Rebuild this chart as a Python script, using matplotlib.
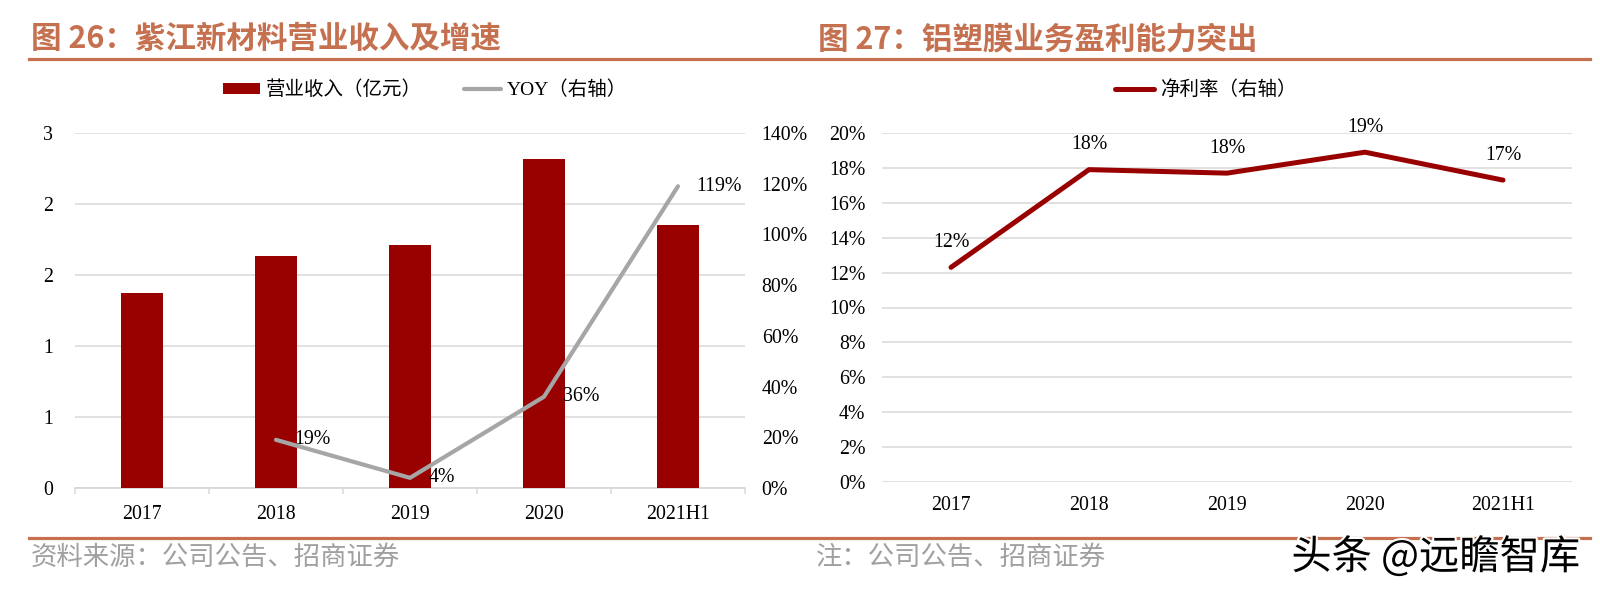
import numpy as np
import matplotlib
matplotlib.use('agg')
import matplotlib.pyplot as plt
import matplotlib.patheffects as pe
from matplotlib.lines import Line2D
from matplotlib.patches import Patch
from matplotlib.ticker import FuncFormatter, FixedLocator

plt.rcParams['font.family'] = ['Liberation Serif', 'Noto Sans CJK SC']

# data
cats = ['2017', '2018', '2019', '2020', '2021H1']
revenue = [1.65, 1.96, 2.05, 2.78, 2.22]          # 营业收入（亿元）
yoy = [np.nan, 0.19, 0.04, 0.36, 1.19]             # YOY（右轴）
margin = [0.123, 0.179, 0.177, 0.189, 0.173]       # 净利率（右轴）

title1 = '图 26：紫江新材料营业收入及增速'
title2 = '图 27：铝塑膜业务盈利能力突出'
src1 = '资料来源：公司公告、招商证券'
src2 = '注：公司公告、招商证券'
wmark = '头条 @远瞻智库'

W, H = 1600, 596
accent = '#C5704F'
red = '#990000'
grey = '#A6A6A6'
gridc = '#D9D9D9'
cjk = ['Noto Sans CJK SC', 'DejaVu Sans']
fs = 14.3

def fx(px):
    return px / W

def fy(py):
    return 1 - py / H

fig = plt.figure(figsize=(W / 100, H / 100), dpi=100)

# titles, rules, footers
fig.text(fx(31), fy(39), title1, color=accent, fontsize=22, fontweight='bold',
         family=cjk, va='center', ha='left')
fig.text(fx(818), fy(39), title2, color=accent, fontsize=22, fontweight='bold',
         family=cjk, va='center', ha='left')
fig.add_artist(Line2D([fx(29), fx(1590)], [fy(59), fy(59)], color=accent, lw=2.3))
fig.add_artist(Line2D([fx(29), fx(1590)], [fy(538), fy(538)], color=accent, lw=2.3))
fig.text(fx(31), fy(557), src1, color='#A0A0A0', fontsize=19, family=cjk, va='center')
fig.text(fx(816), fy(557), src2, color='#A0A0A0', fontsize=19, family=cjk, va='center')
fig.text(fx(1580), fy(557), wmark, color='black', fontsize=29, family=cjk, va='center',
         ha='right', path_effects=[pe.withStroke(linewidth=3, foreground='white')])

x = np.arange(len(cats))

# ---------- left chart ----------
ax = fig.add_axes([fx(75), fy(488), fx(745 - 75), (488 - 133) / H])
ax.bar(x, revenue, width=0.31, color=red, zorder=3)
ax.set_xlim(-0.5, len(cats) - 0.5)
ax.set_ylim(0, 3)
ax.set_yticks(np.linspace(0, 3, 6))
ax.yaxis.set_major_formatter(FuncFormatter(lambda v, p: '%.0f' % v))
ax.grid(axis='y', color=gridc, lw=1.1, zorder=0)
for s in ['top', 'right', 'left']:
    ax.spines[s].set_visible(False)
ax.spines['bottom'].set_color(gridc)
ax.spines['bottom'].set_linewidth(1.3)
ax.set_xticks(x)
ax.set_xticklabels(cats)
ax.xaxis.set_minor_locator(FixedLocator(np.arange(-0.5, len(cats), 1.0)))
ax.tick_params(axis='x', which='major', length=0, labelsize=fs, pad=12)
ax.tick_params(axis='x', which='minor', length=4.5, color=gridc, width=1.1)
ax.tick_params(axis='y', length=0, labelsize=fs, pad=16)

ax2 = ax.twinx()
ax2.plot(x, yoy, color=grey, lw=3, solid_capstyle='round', zorder=4)
ax2.set_ylim(0, 1.4)
ax2.set_yticks(np.arange(0, 1.41, 0.2))
ax2.yaxis.set_major_formatter(FuncFormatter(lambda v, p: '%.0f%%' % (v * 100)))
ax2.tick_params(axis='y', length=0, labelsize=fs, pad=12)
for s in ax2.spines.values():
    s.set_visible(False)
for i, v in enumerate(yoy):
    if not np.isnan(v):
        ax2.annotate('%.0f%%' % (v * 100), (x[i], v), xytext=(13.5, 0),
                     textcoords='offset points', ha='left', va='center', fontsize=fs)

h1 = [Patch(facecolor=red, edgecolor='none'),
      Line2D([0], [0], color=grey, lw=3, solid_capstyle='round')]
fig.legend(h1, ['营业收入（亿元）', 'YOY（右轴）'], loc='center', ncol=2,
           bbox_to_anchor=(fx(425), fy(90)), frameon=False, fontsize=14,
           handlelength=1.9, handleheight=0.55, handletextpad=0.3, columnspacing=2.2)

# ---------- right chart ----------
bx = fig.add_axes([fx(882), fy(482), fx(1572 - 882), (482 - 133) / H])
bx.plot(x, margin, color=red, lw=3.6, solid_capstyle='round', zorder=3)
bx.set_xlim(-0.5, len(cats) - 0.5)
bx.set_ylim(0, 0.2)
bx.set_yticks(np.arange(0, 0.201, 0.02))
bx.yaxis.set_major_formatter(FuncFormatter(lambda v, p: '%.0f%%' % (v * 100)))
bx.grid(axis='y', color=gridc, lw=1.1, zorder=0)
for s in bx.spines.values():
    s.set_visible(False)
bx.set_xticks(x)
bx.set_xticklabels(cats)
bx.tick_params(axis='x', length=0, labelsize=fs, pad=10)
bx.tick_params(axis='y', length=0, labelsize=fs, pad=12)
for i, v in enumerate(margin):
    bx.annotate('%.0f%%' % (v * 100), (x[i], v), xytext=(0, 18),
                textcoords='offset points', ha='center', va='center', fontsize=fs)

h2 = [Line2D([0], [0], color=red, lw=3.6, solid_capstyle='round')]
fig.legend(h2, ['净利率（右轴）'], loc='center', bbox_to_anchor=(fx(1206), fy(90)),
           frameon=False, fontsize=14, handlelength=2.0, handletextpad=0.3)

fig.savefig('out.png', dpi=100)
